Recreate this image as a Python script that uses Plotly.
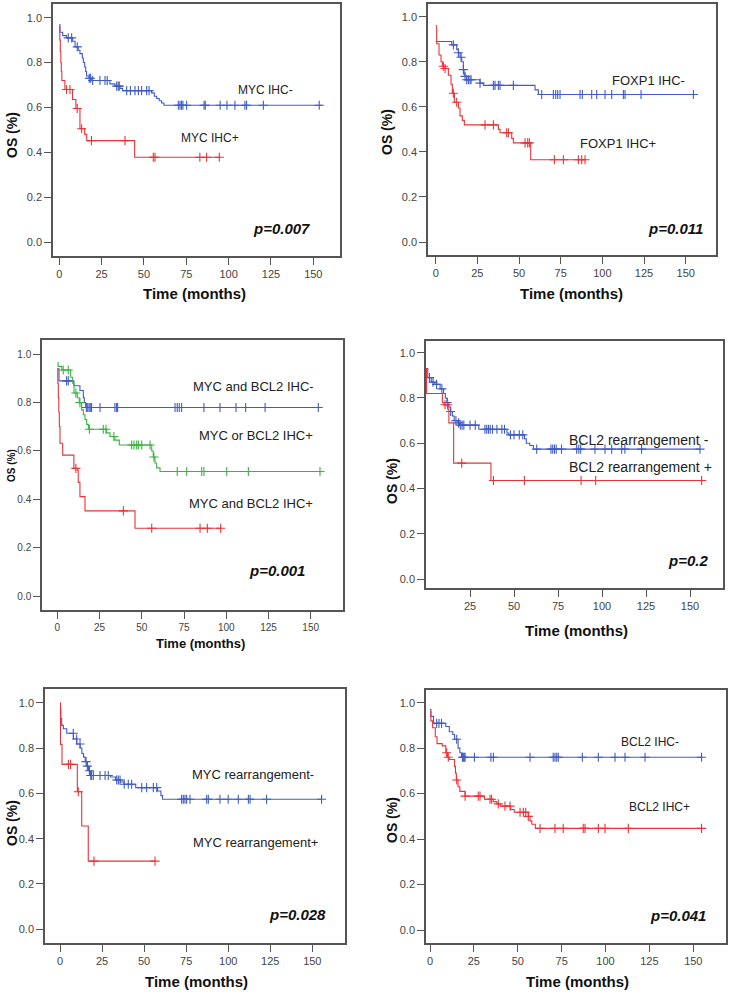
import plotly.graph_objects as go

W, H = 731, 995

BLUE = "rgb(64,92,196)"
RED = "rgb(232,52,56)"
GREEN = "rgb(60,178,64)"

# ---------- panel A : MYC IHC ----------
myc_neg_t = [0, 0.4, 2, 4.3, 7.9, 9.3, 11.2, 12.2, 13.6, 14.2, 15, 15.6, 16.1, 17.7, 19.1, 29.9, 32.9, 35.8, 37.4, 54.5, 56.1, 57.5, 59, 60.4, 61.8]
myc_neg_s = [0.97, 0.935, 0.92, 0.91, 0.895, 0.87, 0.855, 0.84, 0.82, 0.80, 0.78, 0.76, 0.74, 0.73, 0.72, 0.705, 0.695, 0.685, 0.675, 0.665, 0.65, 0.64, 0.63, 0.62, 0.61]
myc_neg_c = [5.3, 7.3, 10.6, 17.7, 18.5, 19.7, 24, 27, 28.3, 33.9, 34.8, 35.4, 39.8, 42, 44.7, 46.7, 48.6, 51.6, 53,
             70.3, 71.3, 72.2, 73, 75.2, 85.5, 86.2, 95, 99, 103.7, 109.6, 110.6, 120.5, 153.5]
myc_neg_end = 155

myc_pos_t = [0, 0.3, 0.6, 0.9, 1.2, 1.5, 3.3, 7.8, 9.8, 12.2, 15.0, 16.2, 44.5]
myc_pos_s = [0.96, 0.90, 0.85, 0.80, 0.76, 0.72, 0.68, 0.635, 0.595, 0.505, 0.48, 0.452, 0.378]
myc_pos_c = [4.3, 6.3, 10.6, 13.2, 19, 38.8, 55.5, 56.5, 83, 87, 94.5]
myc_pos_end = 94.5

# ---------- panel B : FOXP1 IHC ----------
foxp1_neg_t = [0, 9.6, 12.6, 13.6, 14.6, 15.6, 16.6, 17.0, 17.6, 18.6, 26.6, 28.6, 59.6, 61.6]
foxp1_neg_s = [0.89, 0.875, 0.855, 0.84, 0.82, 0.80, 0.765, 0.745, 0.735, 0.72, 0.705, 0.695, 0.675, 0.655]
foxp1_neg_c = [10.6, 13.6, 15.2, 16.6, 17.6, 18.6, 19.6, 20.6, 21.2, 26.6, 34.6, 35.6, 37.6, 38.6, 46.6,
               63.6, 70.6, 72, 73.2, 74.6, 86.6, 88, 93.6, 96.6, 101.6, 105.6, 112.6, 113.6, 123.2, 154.6]
foxp1_neg_end = 155

foxp1_pos_t = [0, 0.6, 2, 3.2, 4, 5.6, 7.6, 9.2, 10, 11.2, 13.6, 14.6, 16, 17.2, 37.6, 38.6, 45.6, 46.6, 57]
foxp1_pos_s = [0.96, 0.88, 0.83, 0.80, 0.78, 0.77, 0.74, 0.70, 0.66, 0.62, 0.595, 0.56, 0.54, 0.52, 0.50, 0.485, 0.46, 0.44, 0.365]
foxp1_pos_c = [4.6, 5.6, 10.6, 12.6, 29.6, 34.6, 42.6, 43.6, 53.6, 55.2, 56.2, 71.2, 76.6, 85.6, 87.6, 89.6]
foxp1_pos_end = 89.6

# ---------- panel C : MYC / BCL2 IHC ----------
dn_t = [0, 1, 9.8, 13.4, 15.4, 16.0, 16.8]
dn_s = [0.94, 0.89, 0.87, 0.85, 0.82, 0.80, 0.78]
dn_c = [5.5, 6.5, 17.2, 18, 18.8, 19.5, 20.3, 25.3, 34.1, 35.1, 35.7, 69.7, 71, 72.2, 73.6, 86.8, 96.3, 105.8, 111.5, 123, 154.5]
dn_end = 154.5

or_t = [0, 0.5, 2.6, 7.9, 9.1, 9.9, 11.8, 13, 14.4, 15.4, 16.4, 17.4, 18.4, 29.2, 31.2, 34.1, 36.7, 55.9, 56.8, 57.8, 58.8, 60.8]
or_s = [0.965, 0.95, 0.935, 0.905, 0.88, 0.84, 0.82, 0.80, 0.77, 0.75, 0.73, 0.71, 0.69, 0.675, 0.66, 0.645, 0.625, 0.60, 0.575, 0.55, 0.53, 0.515]
or_c = [3.5, 6.5, 11, 13.4, 19, 27.2, 28.8, 33.5, 44, 45.4, 47, 48, 50, 54.9, 57.2, 71, 76.6, 85.5, 86.8, 100.3, 113.1, 155.5]
or_end = 155.5

dp_t = [0, 0.3, 0.6, 0.9, 1.2, 1.6, 3.2, 9.8, 11.8, 12.4, 13.4, 16.4, 46]
dp_s = [0.94, 0.88, 0.82, 0.76, 0.70, 0.632, 0.583, 0.528, 0.52, 0.47, 0.411, 0.352, 0.28]
dp_c = [11, 39.1, 55.9, 84.5, 88.8, 96.7]
dp_end = 96.7

# ---------- panel D : BCL2 rearrangement ----------
bcl2r_neg_t = [0, 1, 3, 5, 8, 10, 11, 12, 13, 14, 15, 16, 18, 19, 30, 46, 47, 56, 57, 59, 61]
bcl2r_neg_s = [0.93, 0.89, 0.87, 0.86, 0.84, 0.82, 0.80, 0.78, 0.76, 0.74, 0.72, 0.70, 0.69, 0.68, 0.662, 0.645, 0.637, 0.62, 0.60, 0.59, 0.574]
bcl2r_neg_c = [2, 4, 6, 9, 12, 14, 17, 18.5, 19.5, 20.5, 21.5, 25, 28, 33.5, 34.5, 35.5, 36.5, 37.8, 40.3, 43.1, 44.6, 48, 50, 53, 55,
               62.9, 71, 72, 73, 74, 77, 85.6, 86.8, 87.9, 96, 101.7, 105.5, 111.2, 113, 122.5, 155.7]
bcl2r_neg_end = 155.7

bcl2r_pos_t = [0, 0.3, 9.3, 10.2, 12.5, 13.0, 15.7, 36.9]
bcl2r_pos_s = [0.93, 0.82, 0.78, 0.77, 0.75, 0.69, 0.512, 0.435]
bcl2r_pos_c = [10.8, 12.3, 20.3, 38.3, 55.9, 88.1, 96.4, 156.6]
bcl2r_pos_end = 156.6

# ---------- panel E : MYC rearrangement ----------
mycr_neg_t = [0, 0.5, 1, 2, 4, 8, 10, 12, 13, 14, 15, 16, 17, 18, 30, 33, 36, 38, 45, 58, 60, 61]
mycr_neg_s = [0.975, 0.93, 0.90, 0.885, 0.865, 0.84, 0.818, 0.80, 0.776, 0.76, 0.74, 0.72, 0.70, 0.679, 0.672, 0.659, 0.65, 0.64, 0.625, 0.61, 0.59, 0.574]
mycr_neg_c = [7.9, 9.9, 11.9, 15.5, 16.3, 17.5, 18.3, 18.8, 19.8, 23.8, 26.8, 28.7, 33.7, 34.7, 35.7, 38.2, 40.6, 42.6, 48.6, 51.5, 55.5, 57.5,
              72.3, 73.3, 74.3, 75.3, 77.3, 87.2, 88.2, 95.1, 100, 106, 112, 113, 122.8, 155.5]
mycr_neg_end = 155.5

mycr_pos_t = [0, 0.3, 1.2, 10.3, 12.9, 16.8]
mycr_pos_s = [1.0, 0.816, 0.728, 0.607, 0.456, 0.301]
mycr_pos_c = [5, 6.3, 10.9, 20.2, 56.5]
mycr_pos_end = 56.5

# ---------- panel F : BCL2 IHC ----------
bcl2_neg_t = [0, 0.5, 2, 9, 11, 13, 14, 16, 17, 18]
bcl2_neg_s = [0.97, 0.94, 0.909, 0.895, 0.872, 0.86, 0.839, 0.80, 0.78, 0.76]
bcl2_neg_c = [3.8, 5.1, 6.6, 15.2, 18.5, 19, 19.5, 20, 25.3, 34.7, 36.1, 57, 70.2, 71.2, 72.2, 73.1, 86.8, 95.9, 105.4, 111.1, 122.5, 154.7]
bcl2_neg_end = 154.7

bcl2_pos_t = [0, 0.5, 1.5, 3, 4, 7, 9, 10, 11, 14, 14.5, 15, 16, 17, 20, 31, 36, 38, 40, 46, 48, 56, 57, 58, 60]
bcl2_pos_s = [0.96, 0.92, 0.89, 0.85, 0.82, 0.81, 0.78, 0.76, 0.75, 0.72, 0.69, 0.66, 0.63, 0.61, 0.589, 0.575, 0.565, 0.555, 0.545, 0.53, 0.518, 0.50, 0.48, 0.465, 0.447]
bcl2_pos_c = [9.5, 10.4, 15.2, 20, 27.5, 28.5, 34.2, 35.1, 38.9, 42.7, 45.6, 51.3, 53.2, 54.5, 56, 62.7, 71.2, 75.9, 87.3, 88.3, 95.9, 99.7, 113, 154.7]
bcl2_pos_end = 155

x_ticks = [0, 25, 50, 75, 100, 125, 150]
y_ticks = [0.0, 0.2, 0.4, 0.6, 0.8, 1.0]

# panel geometry in pixels: box (l, t, r, b), x pixel of 0 and 150 months, y pixel of 0.0 and 1.0
panels = [
    dict(box=(53, 4, 340, 256), xpx=(59.3, 313.3), ypx=(242, 17.7), small=False, xt=x_ticks, lsize=12,
         curves=[(myc_neg_t, myc_neg_s, myc_neg_c, myc_neg_end, BLUE),
                 (myc_pos_t, myc_pos_s, myc_pos_c, myc_pos_end, RED)],
         labels=[("MYC IHC-", 121.5, 0.679), ("MYC IHC+", 88.8, 0.464)], p=("p=0.007", 149.3, 0.015)),
    dict(box=(428, 4, 716, 255), xpx=(435.7, 685.7), ypx=(242, 16.7), small=False, xt=x_ticks, lsize=13,
         curves=[(foxp1_neg_t, foxp1_neg_s, foxp1_neg_c, foxp1_neg_end, BLUE),
                 (foxp1_pos_t, foxp1_pos_s, foxp1_pos_c, foxp1_pos_end, RED)],
         labels=[("FOXP1 IHC-", 127.7, 0.715), ("FOXP1 IHC+", 109.4, 0.435)], p=("p=0.011", 161.6, 0.015)),
    dict(box=(42, 340, 343, 610), xpx=(57.3, 310.7), ypx=(596, 354.3), small=True, xt=x_ticks, lsize=13,
         curves=[(dn_t, dn_s, dn_c, dn_end, BLUE),
                 (or_t, or_s, or_c, or_end, GREEN),
                 (dp_t, dp_s, dp_c, dp_end, RED)],
         labels=[("MYC and BCL2 IHC-", 115.9, 0.865), ("MYC or BCL2 IHC+", 117.6, 0.666),
                 ("MYC and BCL2 IHC+", 114.4, 0.381)], p=("p=0.001", 147.8, 0.064)),
    dict(box=(426, 341, 723, 588), xpx=(426, 690), ypx=(579, 352.7), small=False, xt=x_ticks[1:], lsize=14,
         curves=[(bcl2r_neg_t, bcl2r_neg_s, bcl2r_neg_c, bcl2r_neg_end, BLUE),
                 (bcl2r_pos_t, bcl2r_pos_s, bcl2r_pos_c, bcl2r_pos_end, RED)],
         labels=[("BCL2 rearrangement -", 121.0, 0.615), ("BCL2 rearrangement +", 121.6, 0.497)], p=("p=0.2", 161.4, 0.037)),
    dict(box=(45, 689, 345, 943), xpx=(60, 312.3), ypx=(929.3, 702.7), small=False, xt=x_ticks, lsize=13,
         curves=[(mycr_neg_t, mycr_neg_s, mycr_neg_c, mycr_neg_end, BLUE),
                 (mycr_pos_t, mycr_pos_s, mycr_pos_c, mycr_pos_end, RED)],
         labels=[("MYC rearrangement-", 114.7, 0.681), ("MYC rearrangement+", 116.2, 0.381)], p=("p=0.028", 159.3, 0.017)),
    dict(box=(426, 690, 726, 943), xpx=(430, 693.3), ypx=(930, 702.7), small=False, xt=x_ticks, lsize=12,
         curves=[(bcl2_neg_t, bcl2_neg_s, bcl2_neg_c, bcl2_neg_end, BLUE),
                 (bcl2_pos_t, bcl2_pos_s, bcl2_pos_c, bcl2_pos_end, RED)],
         labels=[("BCL2 IHC-", 125.6, 0.827), ("BCL2 IHC+", 131.0, 0.541)], p=("p=0.041", 158.4, 0.018)),
]


def level_at(t, s, c):
    # KM level in force at each censoring time
    out = []
    for x in c:
        v = s[0]
        for ti, si in zip(t, s):
            if ti <= x:
                v = si
        out.append(v)
    return out


fig = go.Figure()
annots = []
FONT = "Liberation Sans, Arial, sans-serif"

for i, p in enumerate(panels):
    n = "" if i == 0 else str(i + 1)
    l, t, r, b = p["box"]
    kx = (p["xpx"][1] - p["xpx"][0]) / 150.0
    ky = p["ypx"][0] - p["ypx"][1]
    xr = [(l - p["xpx"][0]) / kx, (r - p["xpx"][0]) / kx]
    yr = [(p["ypx"][0] - b) / ky, (p["ypx"][0] - t) / ky]
    tick_size = 10 if p["small"] else 11
    common = dict(showline=True, mirror=True, linecolor="#555", linewidth=1.5,
                  ticks="outside", ticklen=7, tickwidth=1, tickcolor="#555",
                  showgrid=False, zeroline=False,
                  tickfont=dict(family=FONT, size=tick_size, color="#444"))
    fig.update_layout(**{
        "xaxis" + n: dict(domain=[l / W, r / W], range=xr, tickvals=p["xt"],
                          anchor="y" + n, **common),
        "yaxis" + n: dict(domain=[1 - b / H, 1 - t / H], range=yr, tickvals=y_ticks,
                          tickformat=".1f", anchor="x" + n, **common),
    })

    for ct, cs, cc, cend, col in p["curves"]:
        fig.add_trace(go.Scatter(x=ct + [cend], y=cs + [cs[-1]], mode="lines",
                                 line=dict(color=col, width=1.1, shape="hv"),
                                 xaxis="x" + n, yaxis="y" + n, hoverinfo="skip"))
        fig.add_trace(go.Scatter(x=cc, y=level_at(ct, cs, cc), mode="markers",
                                 marker=dict(symbol="cross-thin", size=6.5, color=col,
                                             line=dict(color=col, width=1.1)),
                                 xaxis="x" + n, yaxis="y" + n, hoverinfo="skip"))

    for txt, lx, ly in p["labels"]:
        annots.append(dict(text=txt, x=lx, y=ly, xref="x" + n, yref="y" + n,
                           showarrow=False, xanchor="center", yanchor="middle",
                           font=dict(family=FONT, size=p["lsize"], color="#222")))
    ptxt, px_, py_ = p["p"]
    annots.append(dict(text="<b><i>" + ptxt + "</i></b>", x=px_, y=py_, xref="x" + n, yref="y" + n,
                       showarrow=False, xanchor="right", yanchor="bottom",
                       font=dict(family=FONT, size=15, color="#111")))

# axis titles (pixel centre positions)
time_titles = [(194, 293, 15), (571, 293, 15), (200, 643, 13), (576, 630, 15), (196, 981, 15), (577, 981, 15)]
os_titles = [(12, 135, 14), (387, 132, 14), (12, 466, 10), (392, 481, 14), (12, 823, 14), (392, 820, 14)]
for x, y, s in time_titles:
    annots.append(dict(text="<b>Time (months)</b>", x=x / W, y=1 - y / H, xref="paper", yref="paper",
                       showarrow=False, xanchor="center", yanchor="middle",
                       font=dict(family=FONT, size=s, color="#111")))
for x, y, s in os_titles:
    annots.append(dict(text="<b>OS (%)</b>", x=x / W, y=1 - y / H, xref="paper", yref="paper",
                       showarrow=False, xanchor="center", yanchor="middle", textangle=-90,
                       font=dict(family=FONT, size=s, color="#111")))

fig.update_layout(width=W, height=H, margin=dict(l=0, r=0, t=0, b=0),
                  paper_bgcolor="white", plot_bgcolor="white", showlegend=False,
                  annotations=annots)

# the page body has a default 8px margin; drop it so pixels line up with the window
fig.write_html("out.html", config={"displayModeBar": False},
               post_script="document.body.style.margin='0px';")
